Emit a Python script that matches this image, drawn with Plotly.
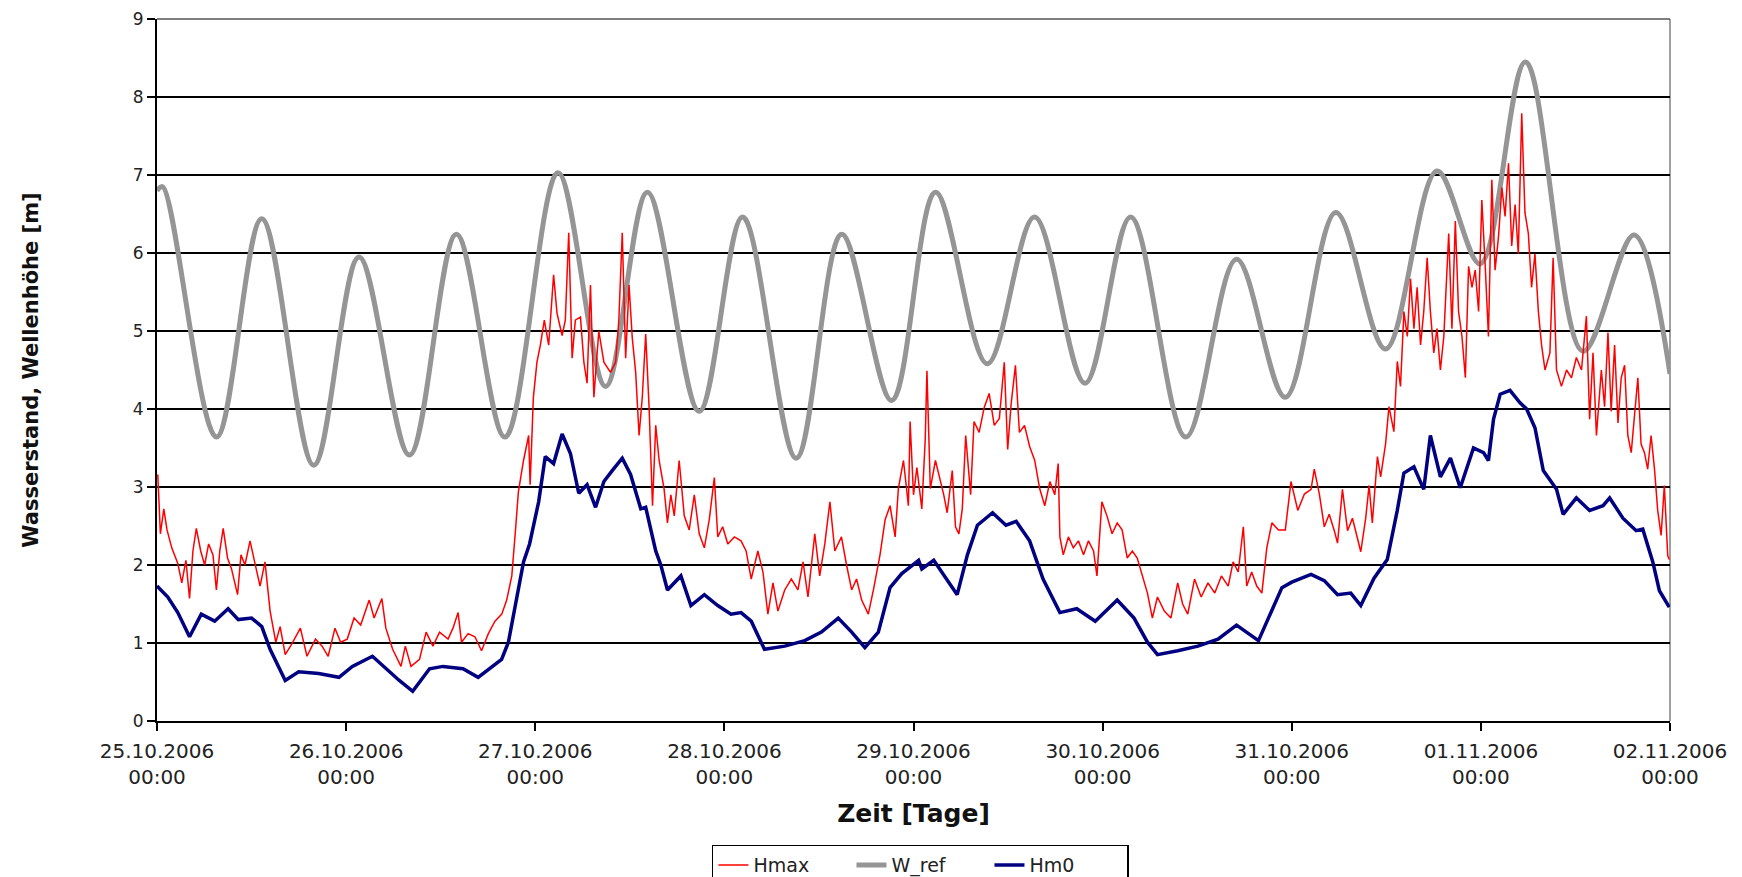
import numpy as np
import pandas as pd
import plotly.graph_objects as go

# ---------------- data (time in days after 25.10.2006 00:00) ----------------
tick_labels = ["25.10.2006", "26.10.2006", "27.10.2006", "28.10.2006", "29.10.2006",
               "30.10.2006", "31.10.2006", "01.11.2006", "02.11.2006"]

wref_days = [0.0, 0.03, 0.314, 0.554, 0.829, 1.068, 1.335, 1.583, 1.84, 2.12, 2.372,
             2.593, 2.867, 3.097, 3.38, 3.62, 3.885, 4.116, 4.39, 4.64, 4.907, 5.148,
             5.44, 5.708, 5.966, 6.233, 6.496, 6.768, 6.996, 7.236, 7.54, 7.81, 8.0]
wref_vals = [6.80, 6.85, 3.64, 6.44, 3.28, 5.95, 3.41, 6.24, 3.64, 7.03, 4.29,
             6.78, 3.97, 6.46, 3.37, 6.24, 4.11, 6.78, 4.58, 6.46, 4.33, 6.46,
             3.64, 5.92, 4.15, 6.52, 4.77, 7.05, 5.86, 8.45, 4.74, 6.23, 4.45]

hm0_days = [0.0, 0.057, 0.11, 0.172, 0.234, 0.305, 0.376, 0.43, 0.50, 0.554, 0.598,
            0.678, 0.749, 0.855, 0.962, 1.033, 1.139, 1.21, 1.281, 1.352, 1.441,
            1.512, 1.618, 1.698, 1.76, 1.822, 1.858, 1.902, 1.938, 1.97, 2.018,
            2.053, 2.097, 2.142, 2.186, 2.23, 2.274, 2.319, 2.363, 2.407, 2.46,
            2.504, 2.558, 2.584, 2.637, 2.664, 2.699, 2.77, 2.823, 2.894, 2.965,
            3.035, 3.088, 3.142, 3.212, 3.319, 3.425, 3.513, 3.602, 3.673, 3.743,
            3.814, 3.876, 3.938, 4.027, 4.044, 4.107, 4.169, 4.231, 4.285, 4.338,
            4.418, 4.489, 4.543, 4.614, 4.685, 4.774, 4.863, 4.961, 5.077, 5.166,
            5.237, 5.29, 5.397, 5.504, 5.61, 5.708, 5.824, 5.886, 5.948, 6.0,
            6.102, 6.172, 6.242, 6.312, 6.365, 6.435, 6.505, 6.558, 6.593, 6.646,
            6.698, 6.733, 6.786, 6.839, 6.891, 6.961, 7.014, 7.04, 7.067, 7.102,
            7.154, 7.207, 7.242, 7.286, 7.33, 7.4, 7.435, 7.505, 7.575, 7.646,
            7.681, 7.751, 7.821, 7.856, 7.909, 7.944, 7.996]
hm0_vals = [1.73, 1.59, 1.39, 1.08, 1.37, 1.28, 1.44, 1.30, 1.32, 1.21, 0.92,
            0.52, 0.63, 0.61, 0.56, 0.70, 0.83, 0.67, 0.52, 0.38, 0.67,
            0.70, 0.67, 0.56, 0.67, 0.79, 1.01, 1.55, 2.04, 2.27, 2.81,
            3.39, 3.30, 3.68, 3.43, 2.92, 3.03, 2.74, 3.07, 3.21, 3.37,
            3.16, 2.72, 2.74, 2.18, 2.00, 1.68, 1.86, 1.48, 1.62, 1.48,
            1.37, 1.39, 1.28, 0.92, 0.96, 1.03, 1.14, 1.32, 1.14, 0.94,
            1.14, 1.71, 1.89, 2.06, 1.95, 2.06, 1.84, 1.62, 2.13, 2.51,
            2.67, 2.51, 2.56, 2.31, 1.82, 1.39, 1.44, 1.28, 1.55, 1.32,
            1.01, 0.85, 0.90, 0.96, 1.05, 1.23, 1.03, 1.37, 1.71, 1.78,
            1.88, 1.80, 1.62, 1.64, 1.48, 1.83, 2.07, 2.70, 3.18, 3.26,
            2.97, 3.66, 3.13, 3.37, 2.99, 3.50, 3.44, 3.34, 3.87, 4.19,
            4.24, 4.08, 4.00, 3.76, 3.21, 2.97, 2.65, 2.86, 2.70, 2.76,
            2.86, 2.60, 2.44, 2.46, 2.04, 1.67, 1.46]

hmax_days = [0.004, 0.018, 0.036, 0.053, 0.078, 0.11, 0.131, 0.153, 0.172, 0.19,
             0.208, 0.231, 0.252, 0.273, 0.296, 0.314, 0.332, 0.35, 0.373, 0.394,
             0.426, 0.444, 0.465, 0.492, 0.518, 0.545, 0.571, 0.598, 0.628, 0.651,
             0.678, 0.713, 0.758, 0.793, 0.838, 0.873, 0.905, 0.941, 0.971, 1.006,
             1.042, 1.077, 1.122, 1.148, 1.189, 1.21, 1.246, 1.29, 1.313, 1.343,
             1.388, 1.423, 1.459, 1.494, 1.539, 1.565, 1.592, 1.61, 1.645, 1.681,
             1.716, 1.752, 1.787, 1.823, 1.849, 1.876, 1.894, 1.911, 1.938, 1.965,
             1.973, 1.99, 2.009, 2.027, 2.048, 2.071, 2.097, 2.115, 2.142, 2.159,
             2.177, 2.195, 2.212, 2.239, 2.257, 2.274, 2.292, 2.31, 2.336, 2.363,
             2.398, 2.425, 2.442, 2.46, 2.478, 2.496, 2.513, 2.531, 2.549, 2.566,
             2.584, 2.602, 2.62, 2.637, 2.655, 2.681, 2.699, 2.717, 2.735, 2.761,
             2.788, 2.814, 2.841, 2.867, 2.894, 2.92, 2.947, 2.965, 2.991, 3.018,
             3.053, 3.088, 3.115, 3.142, 3.177, 3.204, 3.23, 3.257, 3.283, 3.319,
             3.354, 3.389, 3.416, 3.442, 3.478, 3.504, 3.531, 3.558, 3.584, 3.619,
             3.646, 3.673, 3.699, 3.726, 3.761, 3.788, 3.823, 3.85, 3.876, 3.903,
             3.92, 3.947, 3.973, 3.982, 4.0, 4.018, 4.044, 4.062, 4.071, 4.089,
             4.116, 4.142, 4.16, 4.178, 4.205, 4.222, 4.24, 4.258, 4.276, 4.302,
             4.32, 4.347, 4.374, 4.4, 4.427, 4.454, 4.48, 4.498, 4.516, 4.539,
             4.56, 4.587, 4.614, 4.641, 4.667, 4.694, 4.721, 4.747, 4.765, 4.774,
             4.792, 4.819, 4.845, 4.872, 4.899, 4.925, 4.952, 4.97, 4.996, 5.023,
             5.05, 5.077, 5.103, 5.13, 5.157, 5.183, 5.21, 5.237, 5.263, 5.29,
             5.326, 5.361, 5.397, 5.423, 5.45, 5.486, 5.521, 5.557, 5.593, 5.628,
             5.664, 5.69, 5.717, 5.744, 5.762, 5.788, 5.815, 5.842, 5.868, 5.895,
             5.93, 5.966, 5.996, 6.032, 6.067, 6.102, 6.119, 6.146, 6.172, 6.198,
             6.225, 6.242, 6.268, 6.295, 6.321, 6.347, 6.365, 6.391, 6.409, 6.426,
             6.453, 6.47, 6.496, 6.514, 6.54, 6.558, 6.575, 6.593, 6.611, 6.628,
             6.646, 6.663, 6.681, 6.698, 6.716, 6.733, 6.751, 6.768, 6.786, 6.804,
             6.83, 6.847, 6.865, 6.882, 6.9, 6.918, 6.935, 6.953, 6.97, 6.988,
             7.005, 7.023, 7.04, 7.058, 7.075, 7.093, 7.111, 7.128, 7.146, 7.163,
             7.181, 7.198, 7.216, 7.233, 7.251, 7.268, 7.286, 7.304, 7.321, 7.339,
             7.365, 7.382, 7.4, 7.426, 7.453, 7.479, 7.505, 7.532, 7.558, 7.575,
             7.593, 7.611, 7.637, 7.654, 7.672, 7.689, 7.707, 7.725, 7.742, 7.76,
             7.777, 7.795, 7.812, 7.83, 7.847, 7.865, 7.882, 7.9, 7.918, 7.935,
             7.953, 7.97, 7.988, 7.996]
hmax_vals = [3.16, 2.40, 2.72, 2.45, 2.22, 2.02, 1.77, 2.06, 1.57, 2.18,
             2.47, 2.18, 2.00, 2.27, 2.13, 1.68, 2.18, 2.47, 2.09, 1.95,
             1.62, 2.13, 2.00, 2.31, 2.02, 1.73, 2.04, 1.41, 1.01, 1.21,
             0.85, 0.99, 1.19, 0.83, 1.05, 0.96, 0.83, 1.19, 1.01, 1.05,
             1.32, 1.23, 1.55, 1.32, 1.57, 1.19, 0.92, 0.70, 0.96, 0.70,
             0.79, 1.14, 0.96, 1.14, 1.05, 1.19, 1.39, 1.01, 1.12, 1.08,
             0.90, 1.12, 1.28, 1.37, 1.55, 1.86, 2.40, 2.94, 3.34, 3.66,
             3.03, 4.15, 4.60, 4.82, 5.14, 4.82, 5.72, 5.23, 4.94, 5.14,
             6.26, 4.65, 5.14, 5.18, 4.60, 4.33, 5.59, 4.15, 5.00, 4.60,
             4.47, 4.60, 5.14, 6.26, 4.65, 5.59, 4.91, 4.47, 3.66, 4.15,
             4.96, 4.02, 2.76, 3.79, 3.34, 2.98, 2.54, 2.90, 2.63, 3.34,
             2.63, 2.45, 2.90, 2.40, 2.22, 2.58, 3.12, 2.36, 2.49, 2.27,
             2.36, 2.31, 2.18, 1.82, 2.18, 1.91, 1.37, 1.77, 1.41, 1.68,
             1.82, 1.68, 2.04, 1.59, 2.40, 1.86, 2.27, 2.81, 2.18, 2.36,
             2.00, 1.68, 1.82, 1.55, 1.37, 1.68, 2.13, 2.58, 2.76, 2.36,
             2.98, 3.34, 2.76, 3.84, 2.90, 3.25, 2.72, 3.61, 4.49, 2.98,
             3.34, 3.07, 2.90, 2.67, 3.21, 2.49, 2.40, 2.72, 3.66, 2.90,
             3.84, 3.70, 4.02, 4.20, 3.79, 3.88, 4.60, 3.48, 4.06, 4.56,
             3.70, 3.79, 3.52, 3.34, 2.98, 2.76, 3.07, 2.90, 3.30, 2.36,
             2.13, 2.36, 2.22, 2.31, 2.13, 2.31, 2.18, 1.86, 2.81, 2.63,
             2.40, 2.54, 2.45, 2.09, 2.18, 2.09, 1.86, 1.64, 1.32, 1.59,
             1.41, 1.32, 1.77, 1.50, 1.37, 1.82, 1.59, 1.77, 1.64, 1.86,
             1.73, 2.04, 1.91, 2.49, 1.73, 1.91, 1.73, 1.64, 2.22, 2.54,
             2.45, 2.45, 3.07, 2.70, 2.91, 2.97, 3.23, 2.91, 2.49, 2.65,
             2.44, 2.28, 2.97, 2.44, 2.60, 2.33, 2.17, 2.60, 3.02, 2.54,
             3.39, 3.13, 3.55, 4.03, 3.71, 4.61, 4.29, 5.25, 4.93, 5.67,
             5.03, 5.56, 4.82, 5.25, 5.94, 5.25, 4.72, 5.03, 4.50, 4.93,
             6.25, 5.03, 6.41, 5.25, 4.93, 4.40, 5.83, 5.56, 5.78, 5.25,
             6.68, 5.83, 4.93, 6.94, 5.78, 6.20, 6.84, 6.47, 7.15, 6.09,
             6.62, 5.99, 7.79, 6.52, 6.25, 5.56, 5.99, 5.25, 4.82, 4.50,
             4.72, 5.94, 4.50, 4.29, 4.50, 4.40, 4.66, 4.50, 5.19, 3.87,
             4.72, 3.66, 4.50, 4.03, 4.98, 3.97, 4.82, 3.82, 4.40, 4.56,
             3.66, 3.44, 3.87, 4.40, 3.55, 3.44, 3.23, 3.66, 3.23, 2.70,
             2.38, 3.02, 2.12, 2.07]

# ---------------- figure ----------------
t0 = pd.Timestamp("2006-10-25 00:00")


def to_time(days):
    return t0 + pd.to_timedelta(np.asarray(days, dtype=float), unit="D")


tick_vals = [pd.to_datetime(s, format="%d.%m.%Y") for s in tick_labels]
tick_text = [s + "<br>00:00" for s in tick_labels]

FONT = "DejaVu Sans"

fig = go.Figure()
fig.add_trace(go.Scatter(x=to_time(wref_days), y=wref_vals, mode="lines", name="W_ref",
                         line=dict(color="#959595", width=5, shape="spline", smoothing=1.0),
                         legendrank=2))
fig.add_trace(go.Scatter(x=to_time(hmax_days), y=hmax_vals, mode="lines", name="Hmax",
                         line=dict(color="#ff0000", width=1.5), legendrank=1))
fig.add_trace(go.Scatter(x=to_time(hm0_days), y=hm0_vals, mode="lines", name="Hm0",
                         line=dict(color="#000080", width=3.5), legendrank=3))

# the page adds an 8 px body margin, so the figure is 8 px smaller than the window
fig.update_layout(
    width=1734, height=869,
    margin=dict(l=149, r=72, t=11, b=156, autoexpand=False),
    paper_bgcolor="white", plot_bgcolor="white",
    font=dict(family=FONT, color="#222222"),
    showlegend=True,
    legend=dict(orientation="h", x=0.3668, xanchor="left", y=-0.176, yanchor="top",
                bordercolor="#000000", borderwidth=1.5, bgcolor="white",
                font=dict(family=FONT, size=19, color="#222222"),
                entrywidth=93, entrywidthmode="pixels",
                traceorder="normal"),
)

fig.update_xaxes(
    type="date",
    range=[tick_vals[0], tick_vals[-1]],
    tickmode="array", tickvals=tick_vals, ticktext=tick_text,
    tickfont=dict(family=FONT, size=20, color="#222222"),
    ticks="outside", ticklen=8, tickwidth=2, tickcolor="#000000",
    ticklabelstandoff=3,
    showline=True, linecolor="#000000", linewidth=2,
    showgrid=False, zeroline=False, automargin=False,
    title=dict(text="<b>Zeit [Tage]</b>", font=dict(family=FONT, size=25, color="#111111"),
               standoff=16),
)
fig.update_yaxes(
    range=[0, 9], tickmode="linear", tick0=0, dtick=1,
    tickfont=dict(family=FONT, size=17, color="#222222"),
    ticks="outside", ticklen=8, tickwidth=2, tickcolor="#000000",
    showline=True, linecolor="#000000", linewidth=2,
    showgrid=True, gridcolor="#000000", gridwidth=1.5,
    zeroline=False, automargin=False,
    title=dict(text="<b>Wasserstand, Wellenhöhe [m]</b>",
               font=dict(family=FONT, size=21, color="#111111"), standoff=88),
)

# light right/top frame of the plot area
fig.add_shape(type="line", xref="paper", yref="paper", x0=1, x1=1, y0=0, y1=1,
              line=dict(color="#808080", width=1.5), layer="below")
fig.add_shape(type="line", xref="paper", yref="paper", x0=0, x1=1, y0=1, y1=1,
              line=dict(color="#555555", width=1.5), layer="below")

fig.write_html("out.html")
